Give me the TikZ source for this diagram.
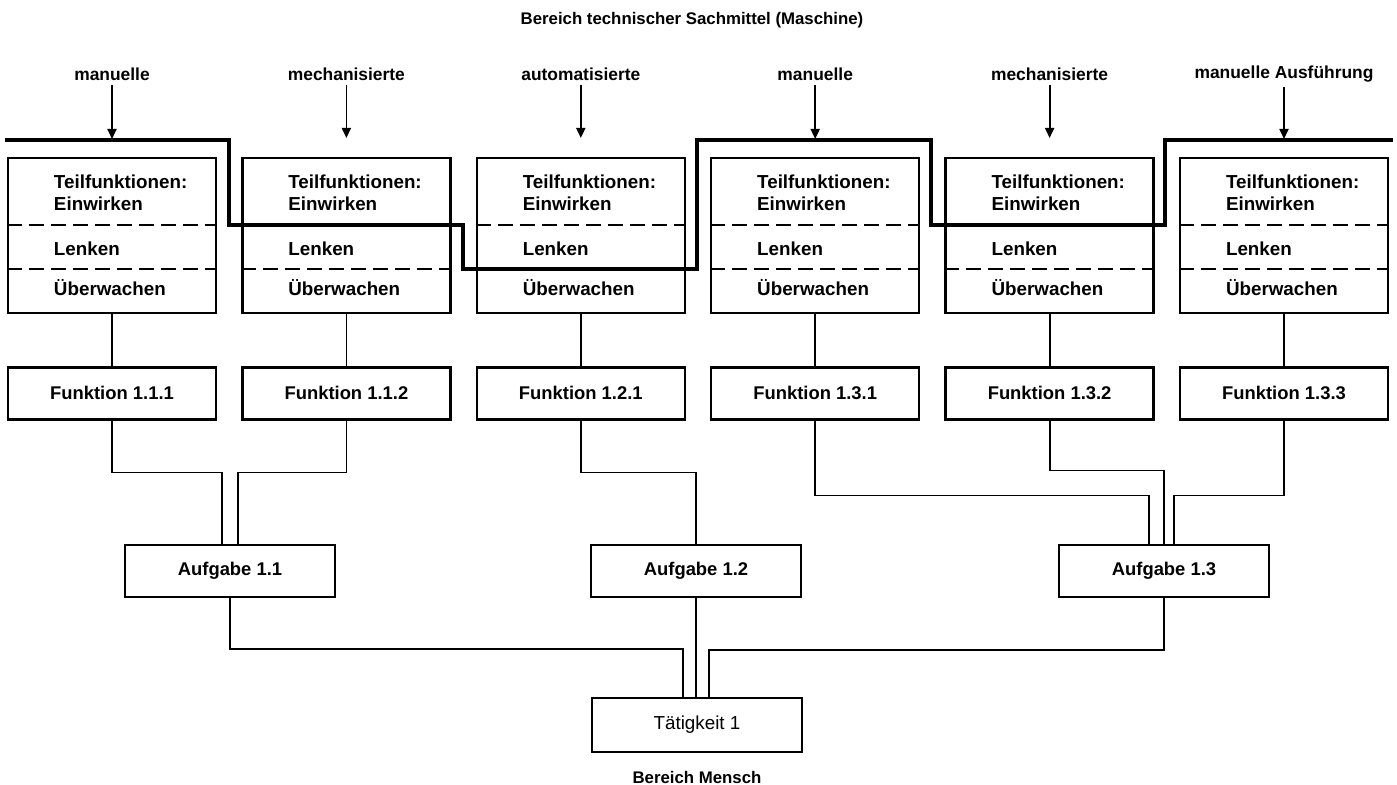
\documentclass[tikz,border=0pt]{standalone}
\usepackage{fontspec}
\setmainfont{Liberation Sans}
\usetikzlibrary{arrows.meta,positioning}

\begin{document}
\begin{tikzpicture}[
  x=0.5pt, y=-0.5pt,
  node distance=26pt and 12pt,
  tfbox/.style={draw, line width=1.2pt, minimum width=104pt, minimum height=77.5pt, text width=58pt, inner xsep=0pt, align=left, font=\fontsize{9.4}{11}\selectfont\bfseries},
  fbox/.style={draw, line width=1.2pt, minimum width=104pt, minimum height=26pt, font=\fontsize{9.2}{11}\selectfont\bfseries},
  abox/.style={draw, line width=1.2pt, minimum width=105pt, minimum height=26pt, font=\fontsize{9.2}{11}\selectfont\bfseries},
  lab/.style={font=\fontsize{8.7}{10}\selectfont\bfseries, inner sep=2pt},
  titel/.style={font=\fontsize{8.4}{10}\selectfont\bfseries},
  trenn/.style={dashed, dash pattern=on 7.5pt off 3.5pt, line width=1pt},
  grenze/.style={line width=2.2pt, line join=miter},
  verb/.style={line width=0.9pt},
  pfeil/.style={-{Triangle[length=5pt,width=4.5pt]}, line width=0.9pt}
]
  \useasboundingbox (0,0) rectangle (1397,785);

  % Teilfunktionen
  \node[tfbox] (tf1) at (112,235.5) {Teilfunktionen:\\Einwirken\\[11.5pt]Lenken\\[9pt]Überwachen};
  \node[tfbox, right=of tf1] (tf2) {Teilfunktionen:\\Einwirken\\[11.5pt]Lenken\\[9pt]Überwachen};
  \node[tfbox, right=of tf2] (tf3) {Teilfunktionen:\\Einwirken\\[11.5pt]Lenken\\[9pt]Überwachen};
  \node[tfbox, right=of tf3] (tf4) {Teilfunktionen:\\Einwirken\\[11.5pt]Lenken\\[9pt]Überwachen};
  \node[tfbox, right=of tf4] (tf5) {Teilfunktionen:\\Einwirken\\[11.5pt]Lenken\\[9pt]Überwachen};
  \node[tfbox, right=of tf5] (tf6) {Teilfunktionen:\\Einwirken\\[11.5pt]Lenken\\[9pt]Überwachen};

  \draw[trenn] (tf1.west |- 0,225) -- (tf1.east |- 0,225);
  \draw[trenn] (tf1.west |- 0,269) -- (tf1.east |- 0,269);
  \draw[trenn] (tf2.west |- 0,269) -- (tf2.east |- 0,269);
  \draw[trenn] (tf3.west |- 0,225) -- (tf3.east |- 0,225);
  \draw[trenn] (tf4.west |- 0,225) -- (tf4.east |- 0,225);
  \draw[trenn] (tf4.west |- 0,269) -- (tf4.east |- 0,269);
  \draw[trenn] (tf5.west |- 0,269) -- (tf5.east |- 0,269);
  \draw[trenn] (tf6.west |- 0,225) -- (tf6.east |- 0,225);
  \draw[trenn] (tf6.west |- 0,269) -- (tf6.east |- 0,269);

  % Grenze Maschine / Mensch
  \draw[grenze] (5,140) -- (229,140) -- (229,225) -- (463,225) -- (463,269) -- (697,269)
    -- (697,140) -- (931,140) -- (931,225) -- (1165,225) -- (1165,140) -- (1393,140);

  % Ausfuehrung
  \node[titel] (masch) at (692,20) {Bereich technischer Sachmittel (Maschine)};
  \node[lab] (l1) at (tf1 |- 0,74) {manuelle};
  \node[lab] (l2) at (tf2 |- 0,74) {mechanisierte};
  \node[lab] (l3) at (tf3 |- 0,74) {automatisierte};
  \node[lab] (l4) at (tf4 |- 0,74) {manuelle};
  \node[lab] (l5) at (tf5 |- 0,74) {mechanisierte};
  \node[lab] (l6) at (tf6 |- 0,74) {manuelle Ausführung};
  \coordinate (e1) at (tf1 |- 0,139);
  \coordinate (e2) at (tf2 |- 0,138);
  \coordinate (e3) at (tf3 |- 0,138);
  \coordinate (e4) at (tf4 |- 0,139);
  \coordinate (e5) at (tf5 |- 0,138);
  \coordinate (e6) at (tf6 |- 0,139);
  \draw[pfeil] (l1) -- (e1);
  \draw[pfeil] (l2) -- (e2);
  \draw[pfeil] (l3) -- (e3);
  \draw[pfeil] (l4) -- (e4);
  \draw[pfeil] (l5) -- (e5);
  \draw[pfeil] (l6) -- (e6);

  % Funktionen
  \node[fbox, below=of tf1] (f1) {Funktion 1.1.1};
  \node[fbox, below=of tf2] (f2) {Funktion 1.1.2};
  \node[fbox, below=of tf3] (f3) {Funktion 1.2.1};
  \node[fbox, below=of tf4] (f4) {Funktion 1.3.1};
  \node[fbox, below=of tf5] (f5) {Funktion 1.3.2};
  \node[fbox, below=of tf6] (f6) {Funktion 1.3.3};
  \draw[verb] (tf1) -- (f1);
  \draw[verb] (tf2) -- (f2);
  \draw[verb] (tf3) -- (f3);
  \draw[verb] (tf4) -- (f4);
  \draw[verb] (tf5) -- (f5);
  \draw[verb] (tf6) -- (f6);

  % Aufgaben
  \node[abox] (a1) at (230,571) {Aufgabe 1.1};
  \node[abox] (a2) at (696,571) {Aufgabe 1.2};
  \node[abox] (a3) at (1164,571) {Aufgabe 1.3};
  \draw[verb] (f1.south) -- ++(0,52) -| ([xshift=-4pt]a1.north);
  \draw[verb] (f2.south) -- ++(0,52) -| ([xshift=4pt]a1.north);
  \draw[verb] (f3.south) -- ++(0,52) -| (a2.north);
  \draw[verb] (f4.south) -- ++(0,75) -| ([xshift=-7.5pt]a3.north);
  \draw[verb] (f5.south) -- ++(0,50) -| (a3.north);
  \draw[verb] (f6.south) -- ++(0,75) -| ([xshift=5pt]a3.north);

  % Taetigkeit
  \node[abox, minimum height=27pt, font=\fontsize{9.4}{11}\selectfont] (t1) at (697,725) {Tätigkeit 1};
  \draw[verb] (a1.south) -- ++(0,51) -| ([xshift=-7pt]t1.north);
  \draw[verb] (a2.south) -- (a2.south |- t1.north);
  \draw[verb] (a3.south) -- ++(0,52) -| ([xshift=6pt]t1.north);
  \node[titel] (mensch) at (697,777) {Bereich Mensch};
\end{tikzpicture}
\end{document}
